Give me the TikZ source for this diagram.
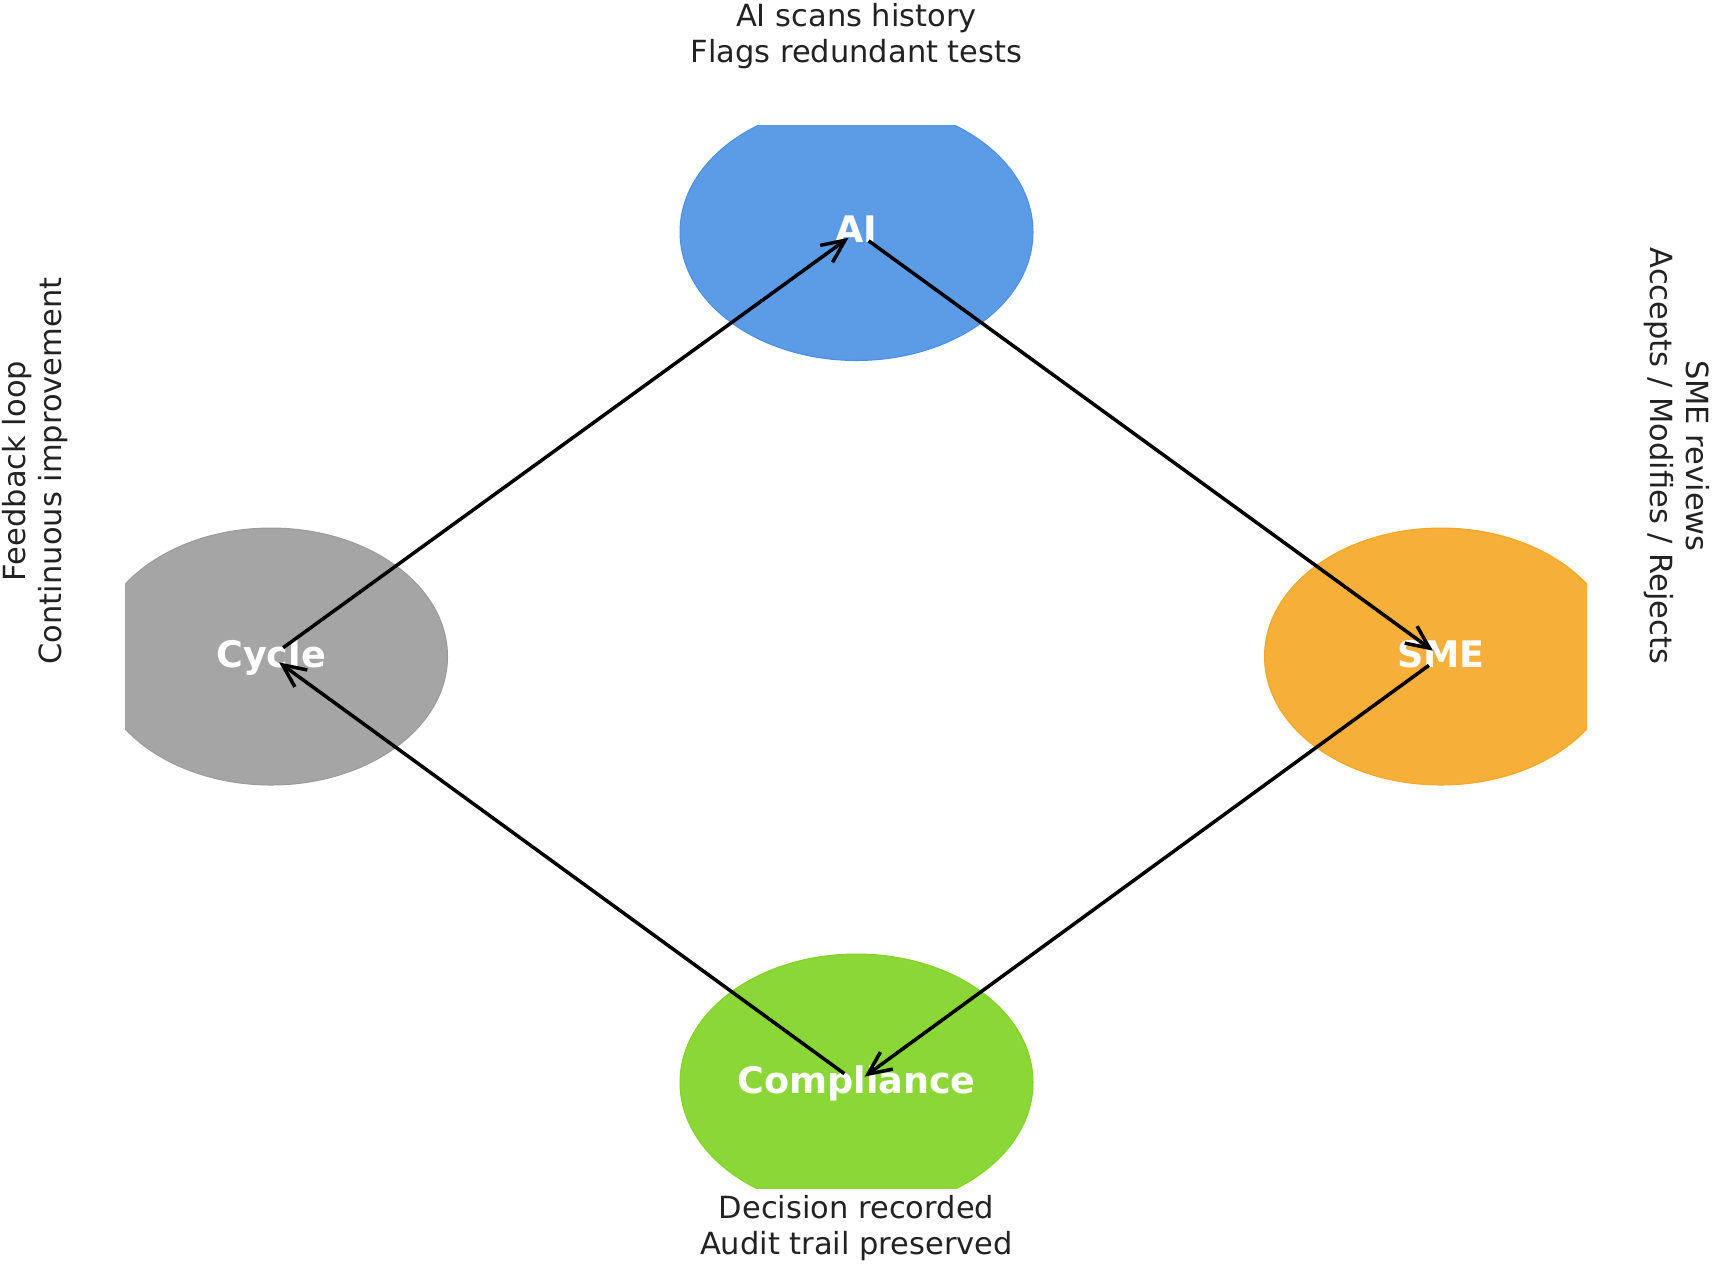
\documentclass[tikz,border=0pt]{standalone}
\usepackage{fontspec}
\setmainfont{DejaVu Sans}
\usetikzlibrary{shapes.geometric,arrows.meta}
\definecolor{aiblue}{HTML}{4A90E2}
\definecolor{aifill}{HTML}{5C9BE5}
\definecolor{smeorange}{HTML}{F5A623}
\definecolor{smefill}{HTML}{F6AF39}
\definecolor{compgreen}{HTML}{7ED321}
\definecolor{compfill}{HTML}{8BD737}
\definecolor{cycgray}{HTML}{9B9B9B}
\definecolor{cycfill}{HTML}{A5A5A5}
\definecolor{txt}{HTML}{222222}
\tikzset{
  blob/.style={ellipse, minimum width=3.53cm, minimum height=2.57cm, inner sep=0pt, line width=0.1mm},
  lab/.style={anchor=base, text=white, inner sep=0pt, font=\fontsize{10.4}{12}\selectfont\bfseries},
  note/.style={anchor=base, text=txt, inner sep=0pt, font=\fontsize{8.68}{10}\selectfont},
  arr/.style={line width=0.35mm, black, -{Straight Barb[length=2.3mm,width=2.1mm,line width=0.35mm]}, shorten <=1.5mm, shorten >=1.0mm}
}
\begin{document}
\begin{tikzpicture}
\useasboundingbox (0,0) rectangle (17.12,-12.63);
\begin{scope}
  \clip (1.25,-1.25) rectangle (15.87,-11.88);
  \node[blob, fill=aifill, draw=aiblue] (ai) at (8.565,-2.32) {};
  \node[blob, fill=cycfill, draw=cycgray] (cyc) at (2.71,-6.565) {};
  \node[blob, fill=smefill, draw=smeorange] (sme) at (14.41,-6.565) {};
  \node[blob, fill=compfill, draw=compgreen] (comp) at (8.565,-10.825) {};
\end{scope}
\node[lab] (ailab) at (8.565,-2.425) {AI};
\node[lab] (cyclab) at (2.71,-6.67) {Cycle};
\node[lab] (smelab) at (14.41,-6.67) {SME};
\node[lab] (complab) at (8.565,-10.93) {Compliance};
\draw[arr] (ai.center) -- (sme.center);
\draw[arr] (sme.center) -- (comp.center);
\draw[arr] (comp.center) -- (cyc.center);
\draw[arr] (cyc.center) -- (ai.center);
\node[note] (t1) at (8.565,-0.26) {AI scans history};
\node[note] (t2) at (8.565,-0.62) {Flags redundant tests};
\node[note] (b1) at (8.565,-12.18) {Decision recorded};
\node[note] (b2) at (8.565,-12.54) {Audit trail preserved};
\node[note, rotate=90] (l1) at (0.25,-4.71) {Feedback loop};
\node[note, rotate=90] (l2) at (0.61,-4.71) {Continuous improvement};
\node[note, rotate=-90] (r1) at (16.86,-4.56) {SME reviews};
\node[note, rotate=-90] (r2) at (16.50,-4.56) {Accepts / Modifies / Rejects};
\end{tikzpicture}
\end{document}
